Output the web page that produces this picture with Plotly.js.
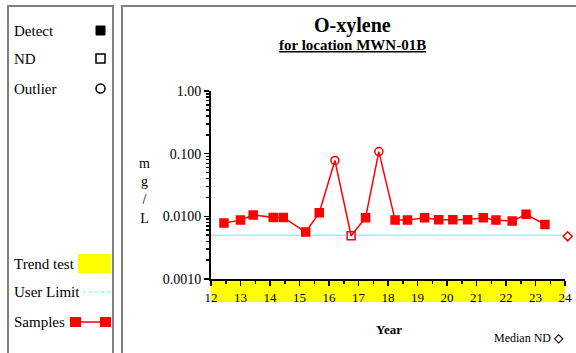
<!DOCTYPE html>
<html><head><meta charset="utf-8">
<script src="https://cdn.plot.ly/plotly-3.0.1.min.js"></script>
<style>html,body{margin:0;padding:0;background:#fff}#c{width:576px;height:353px}</style>
</head><body><div id="c"></div>
<script>
// ---- data ----
const years = [12.44, 13.0, 13.43, 14.11, 14.45, 15.21, 15.67, 16.2, 16.75, 17.24, 17.69, 18.24, 18.66, 19.24, 19.72, 20.2, 20.7, 21.23, 21.66, 22.21, 22.68, 23.32];
const values = [0.0078, 0.0087, 0.0105, 0.0096, 0.0096, 0.0056, 0.0114, 0.078, 0.0049, 0.0095, 0.108, 0.0087, 0.0087, 0.0095, 0.0088, 0.0088, 0.0088, 0.0095, 0.0087, 0.0084, 0.0108, 0.0074];
const kinds = ['D','D','D','D','D','D','D','O','N','D','O','D','D','D','D','D','D','D','D','D','D','D'];
const userLimit = 0.005;
const medianYear = [24.09];
const medianValue = [0.0048];
const xRange = [12, 24];
const yTickVals = [0.001, 0.01, 0.1, 1];
const yTickText = ['0.0010', '0.0100', '0.100', '1.00'];
const xTickVals = [12,13,14,15,16,17,18,19,20,21,22,23,24];

// ---- layout helpers (pixel -> paper) ----
const L = 211, R = 565, RP = 571, T = 91, B = 279;
const W = 576, H = 353;
const px = x => (x - L) / (RP - L);
const py = y => (B - y) / (B - T);
const FONT = 'Liberation Serif';

const symMap = {D: 'square', N: 'square-open', O: 'circle-open'};

const traces = [
  {x: xRange, y: [userLimit, userLimit], mode: 'lines', line: {color: '#80ffff', width: 1.5}, hoverinfo: 'skip'},
  {x: years, y: values, mode: 'lines+markers', line: {color: '#ff0000', width: 1.5},
   marker: {color: '#ff0000', size: 8, symbol: kinds.map(k => symMap[k]), line: {color: '#ff0000', width: 1.5}}, cliponaxis: false},
  {x: medianYear, y: medianValue, xaxis: 'x2', mode: 'markers', marker: {symbol: 'diamond-open', color: '#ff0000', size: 7, line: {width: 1.5, color: '#ff0000'}}, cliponaxis: false}
];

const shapes = [
  {type: 'rect', xref: 'x', yref: 'paper', x0: 12, x1: 24, y0: py(302), y1: 0, fillcolor: '#ffff00', line: {width: 0}, layer: 'below'},
  {type: 'rect', xref: 'paper', yref: 'paper', x0: px(8), x1: px(113), y0: py(360), y1: py(6), line: {color: '#808080', width: 2}},
  {type: 'rect', xref: 'paper', yref: 'paper', x0: px(122), x1: px(590), y0: py(360), y1: py(6), line: {color: '#808080', width: 2}},
  {type: 'rect', xref: 'paper', yref: 'paper', x0: px(96), x1: px(105), y0: py(35), y1: py(26), fillcolor: '#000', line: {color: '#000', width: 1}},
  {type: 'rect', xref: 'paper', yref: 'paper', x0: px(96), x1: px(105), y0: py(63), y1: py(54), fillcolor: '#fff', line: {color: '#000', width: 1.5}},
  {type: 'circle', xref: 'paper', yref: 'paper', x0: px(96), x1: px(105), y0: py(93), y1: py(84), line: {color: '#000', width: 1.5}},
  {type: 'rect', xref: 'paper', yref: 'paper', x0: px(78), x1: px(111), y0: py(273), y1: py(254), fillcolor: '#ffff00', line: {width: 0}},
  {type: 'line', xref: 'paper', yref: 'paper', x0: px(83), x1: px(111), y0: py(292), y1: py(292), line: {color: '#80ffff', width: 1.5, dash: 'dot'}},
  {type: 'line', xref: 'paper', yref: 'paper', x0: px(76), x1: px(106), y0: py(322), y1: py(322), line: {color: '#ff0000', width: 1.5}},
  {type: 'rect', xref: 'paper', yref: 'paper', x0: px(70), x1: px(81), y0: py(327), y1: py(317), fillcolor: '#ff0000', line: {width: 0}},
  {type: 'rect', xref: 'paper', yref: 'paper', x0: px(100), x1: px(111), y0: py(327), y1: py(317), fillcolor: '#ff0000', line: {width: 0}}
];

function txt(text, x, y, size, anchor, extra) {
  return Object.assign({text: text, xref: 'paper', yref: 'paper', x: px(x), y: py(y), xanchor: anchor || 'left', yanchor: 'middle',
    showarrow: false, font: {family: FONT, size: size || 12, color: '#000'}}, extra || {});
}

const annotations = [
  txt('<b>O-xylene</b>', 352, 25, 20, 'center'),
  txt('<b><u>for location MWN-01B</u></b>', 352, 45, 15, 'center'),
  txt('m<br>g<br>/<br>L', 144, 191, 14, 'center'),
  txt('<b>Year</b>', 389, 329, 13, 'center'),
  txt('Median ND <b>◇</b>', 566, 338, 12, 'right'),
  txt('Detect', 12, 31, 15),
  txt('ND', 12, 59, 15),
  txt('Outlier', 12, 89, 15),
  txt('Trend test', 12, 264, 15),
  txt('User Limit', 12, 292, 15),
  txt('Samples', 12, 322, 15)
];

const layout = {
  width: W, height: H,
  margin: {l: L, r: W - RP, t: T, b: H - B, pad: 0},
  paper_bgcolor: '#fff', plot_bgcolor: 'rgba(0,0,0,0)',
  showlegend: false,
  font: {family: FONT},
  xaxis: {domain: [0, (R - L) / (RP - L)], range: xRange, tickvals: xTickVals, ticks: 'outside', ticklen: 5, tickwidth: 1.5, tickcolor: '#000',
    showline: true, linecolor: '#000', linewidth: 2, showgrid: false, zeroline: false,
    minor: {dtick: 0.5, ticks: 'outside', ticklen: 3, tickcolor: '#000', showgrid: false},
    tickfont: {family: FONT, size: 13, color: '#000'}, fixedrange: true},
  xaxis2: {domain: [0, 1], anchor: 'y', range: [12, 12 + 12 * (RP - L) / (R - L)], visible: false, fixedrange: true},
  yaxis: {type: 'log', range: [-3, 0], tickvals: yTickVals, ticktext: yTickText, ticks: 'outside', ticklen: 5, tickwidth: 1.5, tickcolor: '#000',
    showline: true, linecolor: '#000', linewidth: 2, showgrid: false, zeroline: false,
    minor: {dtick: 'D1', ticks: 'outside', ticklen: 3, tickcolor: '#000', showgrid: false},
    tickfont: {family: FONT, size: 14, color: '#000'}, fixedrange: true},
  shapes: shapes,
  annotations: annotations
};

Plotly.newPlot('c', traces, layout, {displayModeBar: false, staticPlot: true});
</script>
</body></html>
